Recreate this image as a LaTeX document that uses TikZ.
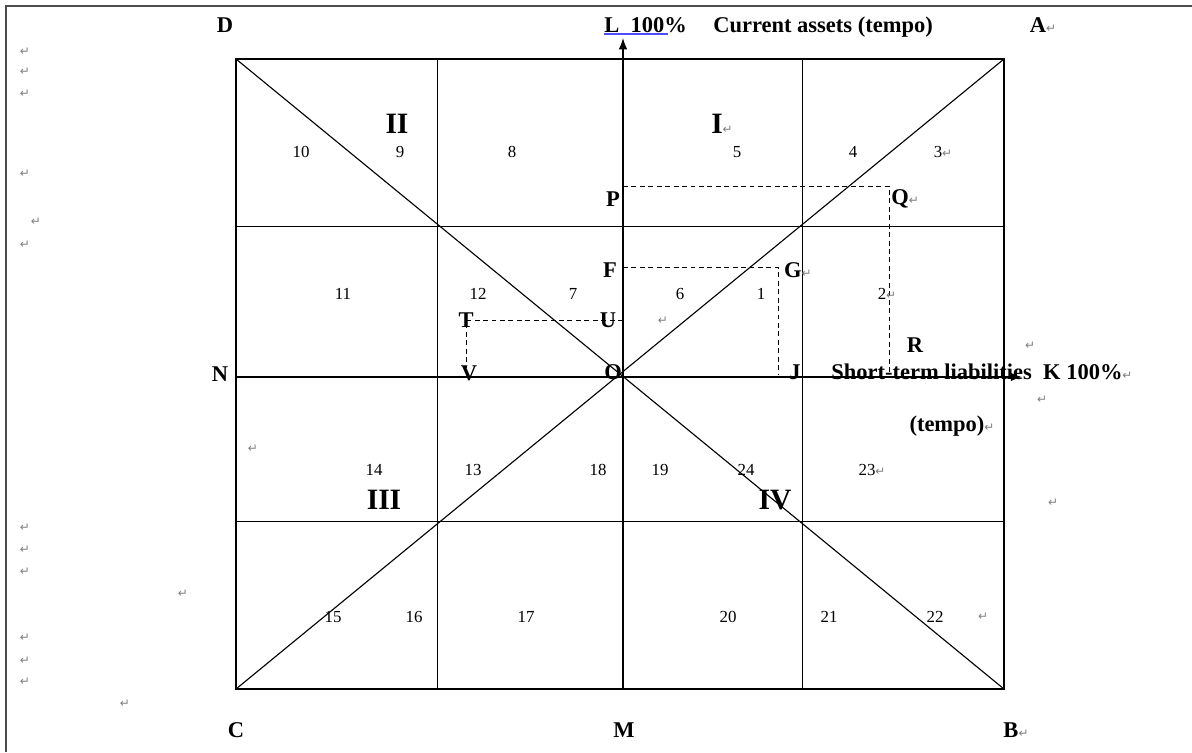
\documentclass[tikz,border=0pt]{standalone}
\usepackage{fontspec}
\setmainfont{Liberation Serif}
\newfontfamily\retfont{DejaVu Sans}
\usetikzlibrary{arrows.meta}
\newcommand{\retmark}{{\retfont\mdseries\fontsize{8.5}{8.5}\selectfont\color{gray}↵}}

\begin{document}
\begin{tikzpicture}[x=0.025cm, y=-0.025cm,
    pt/.style={font=\fontsize{16}{16}\selectfont\bfseries, inner sep=0pt},
    num/.style={font=\fontsize{12}{12}\selectfont, inner sep=0pt},
    quad/.style={font=\fontsize{21}{21}\selectfont\bfseries, inner sep=0pt},
    ret/.style={font=\retfont\fontsize{8.5}{8.5}\selectfont, text=gray, inner sep=0pt},
    box/.style={line width=1pt},
    cell/.style={line width=0.65pt},
    diag/.style={line width=0.8pt},
    axis/.style={line width=0.8pt, -{Latex[length=8pt,width=6pt]}},
    guide/.style={line width=0.6pt, dash pattern=on 3.5pt off 2.5pt},
    frame/.style={line width=1.2pt, black!70}
]
\useasboundingbox (0,0) rectangle (1192,752);

\coordinate (D) at (236,59);
\coordinate (A) at (1004,59);
\coordinate (B) at (1004,689);
\coordinate (C) at (236,689);
\coordinate (O) at (623,377);
\coordinate (Ltop) at (623,38);
\coordinate (Mbot) at (623,689);
\coordinate (Nleft) at (236,377);
\coordinate (Kend) at (1022,377);

\coordinate (P) at (623,186);
\coordinate (Q) at (889,186);
\coordinate (R) at (889,374);
\coordinate (F) at (623,267);
\coordinate (G) at (778,267);
\coordinate (J) at (778,374);
\coordinate (T) at (466,320);
\coordinate (U) at (623,320);
\coordinate (V) at (466,368);

% rámec
\draw[frame] (6,752) -- (6,6) -- (1192,6);

% mriežka
\draw[box] (D) rectangle (B);
\draw[cell] (437,59) -- (437,689);
\draw[cell] (802,59) -- (802,689);
\draw[cell] (236,226) -- (1004,226);
\draw[cell] (236,521) -- (1004,521);

% uhlopriečky
\draw[diag] (D) -- (B);
\draw[diag] (C) -- (A);

% osi
\draw[axis] (Mbot) -- (Ltop);
\draw[axis] (Nleft) -- (Kend);
\draw[blue!70, line width=1.1pt] (604,34) -- (668,34);

% čiarkované
\draw[guide] (P) -- (Q) -- (R);
\draw[guide] (F) -- (G) -- (J);
\draw[guide] (U) -- (T) -- (V);

% písmená
\node[pt] (nD) at (225,25) {D};
\node[pt, anchor=base west] (nL) at (604,32) {L\ \ 100\%};
\node[pt, anchor=base west] (nCur) at (713,32) {Current assets (tempo)};
\node[pt] (nA) at (1043,25) {A\retmark};
\node[pt] (nP) at (613,199) {P};
\node[pt] (nQ) at (905,199) {Q\retmark};
\node[pt] (nF) at (610,270) {F};
\node[pt] (nG) at (798,270) {G\retmark};
\node[pt] (nT) at (466,320) {T};
\node[pt] (nU) at (608,320) {U};
\node[pt] (nR) at (915,345) {R};
\node[pt] (nN) at (220,374) {N};
\node[pt] (nV) at (469,373) {V};
\node[pt] (nO) at (613,372) {O};
\node[pt] (nJ) at (795,372) {J};
\node[pt, anchor=base west] (nK) at (831,379) {Short-term liabilities\ \ K 100\%\retmark};
\node[pt] (nTempo) at (952,426) {(tempo)\retmark};
\node[pt] (nC) at (236,730) {C};
\node[pt] (nM) at (624,730) {M};
\node[pt] (nB) at (1016,730) {B\retmark};

% kvadranty
\node[quad] (qII) at (397,124) {II};
\node[quad] (qI) at (722,124) {I\retmark};
\node[quad] (qIII) at (384,500) {III};
\node[quad] (qIV) at (775,500) {IV};

% čísla polí
\node[num] (c10) at (301,152) {10};
\node[num] (c9) at (400,152) {9};
\node[num] (c8) at (512,152) {8};
\node[num] (c5) at (737,152) {5};
\node[num] (c4) at (853,152) {4};
\node[num] (c3) at (943,152) {3\retmark};
\node[num] (c11) at (343,294) {11};
\node[num] (c12) at (478,294) {12};
\node[num] (c7) at (573,294) {7};
\node[num] (c6) at (680,294) {6};
\node[num] (c1) at (761,294) {1};
\node[num] (c2) at (887,294) {2\retmark};
\node[num] (c14) at (374,470) {14};
\node[num] (c13) at (473,470) {13};
\node[num] (c18) at (598,470) {18};
\node[num] (c19) at (660,470) {19};
\node[num] (c24) at (746,470) {24};
\node[num] (c23) at (872,470) {23\retmark};
\node[num] (c15) at (333,617) {15};
\node[num] (c16) at (414,617) {16};
\node[num] (c17) at (526,617) {17};
\node[num] (c20) at (728,617) {20};
\node[num] (c21) at (829,617) {21};
\node[num] (c22) at (935,617) {22};

% značky odsekov
\node[ret] (r1) at (25,52) {↵};
\node[ret] (r2) at (25,72) {↵};
\node[ret] (r3) at (25,94) {↵};
\node[ret] (r4) at (25,174) {↵};
\node[ret] (r5) at (36,222) {↵};
\node[ret] (r6) at (25,245) {↵};
\node[ret] (r7) at (253,449) {↵};
\node[ret] (r8) at (25,528) {↵};
\node[ret] (r9) at (25,550) {↵};
\node[ret] (r10) at (25,572) {↵};
\node[ret] (r11) at (183,594) {↵};
\node[ret] (r12) at (25,638) {↵};
\node[ret] (r13) at (25,661) {↵};
\node[ret] (r14) at (25,682) {↵};
\node[ret] (r15) at (125,704) {↵};
\node[ret] (r16) at (663,321) {↵};
\node[ret] (r17) at (1030,346) {↵};
\node[ret] (r18) at (1042,400) {↵};
\node[ret] (r19) at (1053,503) {↵};
\node[ret] (r20) at (983,617) {↵};

\end{tikzpicture}
\end{document}
